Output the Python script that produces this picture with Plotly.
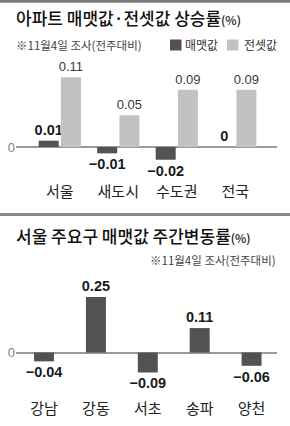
import plotly.graph_objects as go

W, H = 290, 426

# ---- data ----
top_categories = ["서울", "새도시", "수도권", "전국"]
sale_values = [0.01, -0.01, -0.02, 0]
jeonse_values = [0.11, 0.05, 0.09, 0.09]
top_series_names = ["매맷값", "전셋값"]

bottom_categories = ["강남", "강동", "서초", "송파", "양천"]
district_values = [-0.04, 0.25, -0.09, 0.11, -0.06]

top_title = "아파트 매맷값·전셋값 상승률"
bottom_title = "서울 주요구 매맷값 주간변동률"
note_text = "※11월4일 조사(전주대비)"

DARK = "#525252"
LIGHT = "#c2c2c2"
KR = "Noto Sans CJK KR"
NUM = "Liberation Sans, Arial, sans-serif"


def fmt(v):
    if v == 0:
        return "0"
    s = f"{v:g}"
    return s.replace("-", "\u2212")


def px_y(p):
    return 1 - p / H


def px_x(p):
    return p / W


fig = go.Figure()

fig.add_trace(go.Bar(
    x=top_categories, y=sale_values, name=top_series_names[0],
    marker=dict(color=DARK, line=dict(width=0)),
    width=0.342, offset=-0.36,
    text=[fmt(v) for v in sale_values], textposition="outside", constraintext="none",
    textfont=dict(family=NUM, size=14.5, color="#1a1a1a", weight="bold"),
    cliponaxis=False, xaxis="x", yaxis="y", showlegend=False,
))
fig.add_trace(go.Bar(
    x=top_categories, y=jeonse_values, name=top_series_names[1],
    marker=dict(color=LIGHT, line=dict(width=0)),
    width=0.342, offset=0.02,
    text=[fmt(v) for v in jeonse_values], textposition="outside", constraintext="none",
    textfont=dict(family=NUM, size=13, color="#3a3a3a"),
    cliponaxis=False, xaxis="x", yaxis="y", showlegend=False,
))
fig.add_trace(go.Bar(
    x=bottom_categories, y=district_values,
    marker=dict(color=DARK, line=dict(width=0)),
    width=0.385,
    text=[fmt(v) for v in district_values], textposition="outside", constraintext="none",
    textfont=dict(family=NUM, size=14.5, color="#1a1a1a", weight="bold"),
    cliponaxis=False, xaxis="x2", yaxis="y2", showlegend=False,
))

xdom = [px_x(16), px_x(277)]
axis_common = dict(showgrid=False, showline=False, ticks="", zeroline=False,
                   tickfont=dict(family=KR, size=15, color="#222"))
yaxis_common = dict(showgrid=False, showline=False, ticks="",
                    zeroline=True, zerolinecolor="#9a9a9a", zerolinewidth=1.5,
                    tickvals=[0], ticktext=["0"],
                    tickfont=dict(family=NUM, size=13, color="#808080"))

fig.update_layout(
    width=W, height=H,
    margin=dict(l=0, r=0, t=0, b=0),
    paper_bgcolor="white", plot_bgcolor="white",
    barmode="overlay",
    xaxis=dict(domain=xdom, range=[-0.748, 3.714], anchor="y", **axis_common),
    yaxis=dict(domain=[px_y(181), px_y(60)], range=[-0.0535, 0.137], anchor="x", **yaxis_common),
    xaxis2=dict(domain=xdom, range=[-0.54, 4.49], anchor="y2", **axis_common),
    yaxis2=dict(domain=[px_y(398), px_y(280)], range=[-0.205, 0.3266], anchor="x2", **yaxis_common),
)

annotations = [
    dict(text=top_title + "<span style='font-size:12px'>(%)</span>",
         x=px_x(14), y=px_y(17), xanchor="left", yanchor="middle",
         font=dict(family=KR, size=17, color="#111", weight=500)),
    dict(text=note_text, x=px_x(14), y=px_y(45), xanchor="left", yanchor="middle",
         font=dict(family=KR, size=11.5, color="#444")),
    dict(text=top_series_names[0], x=px_x(183), y=px_y(45), xanchor="left", yanchor="middle",
         font=dict(family=KR, size=12, color="#333")),
    dict(text=top_series_names[1], x=px_x(242), y=px_y(45), xanchor="left", yanchor="middle",
         font=dict(family=KR, size=12, color="#333")),
    dict(text=bottom_title + "<span style='font-size:12px'>(%)</span>",
         x=px_x(14), y=px_y(235), xanchor="left", yanchor="middle",
         font=dict(family=KR, size=17, color="#111", weight=500)),
    dict(text=note_text, x=px_x(278), y=px_y(260), xanchor="right", yanchor="middle",
         font=dict(family=KR, size=11.5, color="#444")),
]
for a in annotations:
    a.update(xref="paper", yref="paper", showarrow=False)
fig.update_layout(annotations=annotations)

shapes = [
    dict(type="rect", x0=0, x1=1, y0=px_y(2.8), y1=1, fillcolor="#7a7a7a", line=dict(width=0)),
    dict(type="rect", x0=0, x1=1, y0=px_y(216), y1=px_y(213), fillcolor="#8a8a8a", line=dict(width=0)),
    dict(type="rect", x0=px_x(170), x1=px_x(181.5), y0=px_y(50.5), y1=px_y(39.5), fillcolor=DARK, line=dict(width=0)),
    dict(type="rect", x0=px_x(227), x1=px_x(238.5), y0=px_y(50.5), y1=px_y(39.5), fillcolor=LIGHT, line=dict(width=0)),
]
for s in shapes:
    s.update(xref="paper", yref="paper", layer="above")
fig.update_layout(shapes=shapes)

fig.write_html("out.html")
